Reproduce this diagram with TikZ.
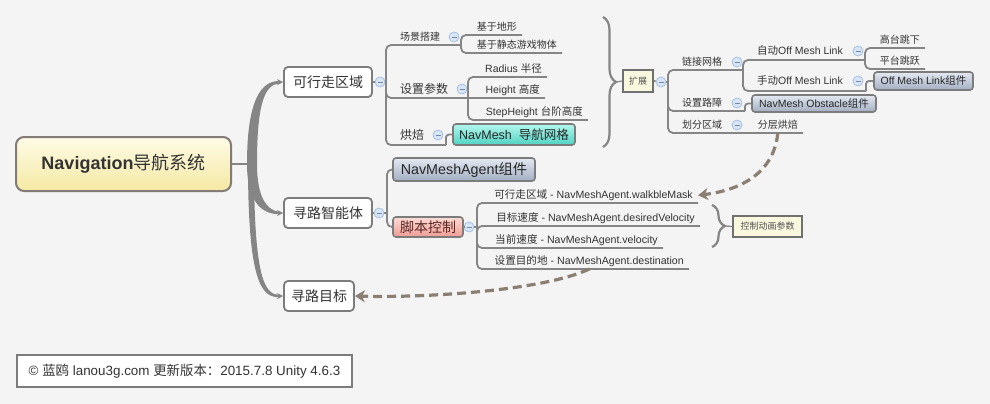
\documentclass[tikz,border=0pt]{standalone}
\usepackage{fontspec}
\setmainfont{Liberation Sans}
\newfontfamily\cjk{Noto Sans CJK SC}
\newcommand{\zh}[1]{{\cjk #1}}
\usetikzlibrary{arrows.meta,decorations.pathreplacing}
\definecolor{bgcol}{HTML}{F4F4F4}
\definecolor{linecol}{HTML}{858585}
\definecolor{boxcol}{HTML}{7C7C7C}
\definecolor{txtcol}{HTML}{333333}
\definecolor{foldfill}{HTML}{D8E5F6}
\definecolor{folddraw}{HTML}{A6BFE4}
\definecolor{flowcol}{HTML}{8A7F72}
\definecolor{creamcol}{HTML}{FAF7DF}
\definecolor{rootop}{HTML}{FEFBE6}
\definecolor{rootbot}{HTML}{F5E9A4}
\definecolor{tealtop}{HTML}{B4F7EC}
\definecolor{tealbot}{HTML}{4FD2C2}
\definecolor{slatetop}{HTML}{E4E9F1}
\definecolor{slatebot}{HTML}{A2AEC2}
\definecolor{pinktop}{HTML}{FDDCD5}
\definecolor{pinkbot}{HTML}{F09C93}

\begin{document}
\begin{tikzpicture}[x=1pt, y=-1pt,
        line/.style={draw=linecol, line width=1.8pt, rounded corners=5pt},
        topic/.style={draw=boxcol, line width=1.8pt, rounded corners=4pt, fill=white, text=txtcol,
            inner sep=0pt, minimum height=30pt, font=\fontsize{14}{16}\selectfont},
        tag/.style={text=txtcol, inner sep=0pt},
        leaf/.style={text=txtcol, anchor=south east, inner xsep=5pt, inner ysep=2.5pt,
            text height=0.8em, text depth=0.2em},
        fold/.style={circle, draw=folddraw, fill=foldfill, line width=0.8pt, minimum size=10pt, inner sep=0pt,
            path picture={\draw[folddraw!70!black, line width=0.9pt]
                ([xshift=-2.5pt]path picture bounding box.center) -- ([xshift=2.5pt]path picture bounding box.center);}},
        card/.style={draw=boxcol, line width=1.6pt, rounded corners=3pt, inner sep=0pt, text=black!85},
        slate/.style={card, top color=slatetop, bottom color=slatebot},
        note/.style={draw=boxcol!90!black, line width=1.6pt, fill=creamcol, inner sep=0pt, text=txtcol!85},
        curly/.style={draw=linecol, line width=2.2pt, decorate, decoration={brace, amplitude=13pt}},
        flow/.style={draw=flowcol, line width=3.2pt, dash pattern=on 9pt off 5pt,
            -{Stealth[length=10pt, width=12pt, inset=3pt]}}]
        \useasboundingbox[fill=bgcol] (0,0) rectangle (990,404);
        % root and first level
        \node[draw=boxcol!90!brown, line width=2pt, rounded corners=8pt, top color=rootop, bottom color=rootbot,
            minimum width=215pt, minimum height=54pt, inner sep=0pt, text=txtcol] (nav) at (123.5,164)
            {\fontsize{18}{20}\selectfont\bfseries Navigation\zh{\mdseries 导航系统}};
        \node[topic, minimum width=88pt] (kxz) at (328,82) {\zh{可行走区域}};
        \node[topic, minimum width=88pt] (xlz) at (328,213) {\zh{寻路智能体}};
        \node[topic, minimum width=70pt] (xlm) at (319,296) {\zh{寻路目标}};
        \coordinate (trunk) at (252,164);
        \draw[line] (nav.east) -- (trunk);
        \fill[linecol] (247,164) .. controls (247,98) and (262,81) .. (279,81)
            -- (279,83.5) .. controls (265,85) and (257,102) .. (257,164) -- cycle;
        \fill[linecol] (247,164) .. controls (247,202) and (262,214.2) .. (279,214.2)
            -- (279,211.8) .. controls (266,210) and (257,196) .. (257,164) -- cycle;
        \fill[linecol] (248,164) .. controls (248,284) and (262,297.2) .. (279,297.2)
            -- (279,295) .. controls (265,294) and (254,280) .. (254,164) -- cycle;
        \draw[linecol, line width=1.5pt, -{Stealth[length=6pt, width=6pt]}] (277,82.2) -- (kxz.west);
        \draw[linecol, line width=1.5pt, -{Stealth[length=6pt, width=6pt]}] (277,213) -- (xlz.west);
        \draw[linecol, line width=1.5pt, -{Stealth[length=6pt, width=6pt]}] (277,296.1) -- (xlm.west);
        % walkable area
        \node[fold] (f-kxz) at (380,82) {};
        \coordinate (b-kxz) at (386,82);
        \draw[line] (kxz.east) -- (f-kxz);
        \draw[line] (f-kxz.east) -- (b-kxz);
        \node[tag, font=\fontsize{10}{12}\selectfont] (cjdj) at (420,37) {\zh{场景搭建}};
        \node[fold] (f-cjdj) at (454,37) {};
        \coordinate (j-cjdj) at (461,45);
        \node[leaf, font=\fontsize{10}{12}\selectfont] (dx) at (522,35) {\zh{基于地形}};
        \node[leaf, font=\fontsize{10}{12}\selectfont] (jtyx) at (562,53) {\zh{基于静态游戏物体}};
        \draw[line] (b-kxz) |- (j-cjdj);
        \draw[line] (j-cjdj) |- (dx.south east);
        \draw[line] (j-cjdj) |- (jtyx.south east);
        \node[tag, font=\fontsize{12}{14}\selectfont] (szcs) at (424,89) {\zh{设置参数}};
        \node[fold] (f-szcs) at (462,89) {};
        \coordinate (j-szcs) at (468,98);
        \node[leaf, font=\fontsize{10.5}{12}\selectfont] (radius) at (547,77) {Radius \zh{半径}};
        \node[leaf, font=\fontsize{10.5}{12}\selectfont] (height) at (545,98) {Height \zh{高度}};
        \node[leaf, font=\fontsize{10.5}{12}\selectfont] (step) at (588,120) {StepHeight \zh{台阶高度}};
        \draw[line] (b-kxz) |- (j-szcs);
        \draw[line] (j-szcs) |- (radius.south east);
        \draw[line] (j-szcs) -- (height.south east);
        \draw[line] (j-szcs) |- (step.south east);
        \node[tag, font=\fontsize{12}{14}\selectfont] (hb) at (412,135) {\zh{烘焙}};
        \node[fold] (f-hb) at (438,135) {};
        \node[card, top color=tealtop, bottom color=tealbot, minimum width=122pt, minimum height=21pt,
            font=\fontsize{12.5}{14}\selectfont] (navmesh) at (514,134.5) {NavMesh~~\zh{导航网格}};
        \coordinate (j-hb) at (446,145);
        \draw[line] (b-kxz) |- (j-hb);
        \draw[line, rounded corners=3pt] (j-hb) |- (navmesh.west);
        % extension
        \draw[curly] (603,17) -- (603,147);
        \node[note, minimum width=30pt, minimum height=22pt, font=\fontsize{9}{10}\selectfont] (kz) at (638,81) {\zh{扩展}};
        \draw[linecol, line width=1.2pt] (616,82) -- (kz.west);
        \node[fold] (f-kz) at (661,82) {};
        \coordinate (b-kz) at (668,82);
        \draw[line] (kz.east) -- (f-kz);
        \draw[line] (f-kz.east) -- (b-kz);
        \node[tag, font=\fontsize{10}{12}\selectfont] (ljwg) at (702,62) {\zh{链接网格}};
        \node[fold] (f-ljwg) at (737,62) {};
        \coordinate (j-ljwg) at (743,70);
        \draw[line] (b-kz) |- (j-ljwg);
        \node[tag, font=\fontsize{10.5}{12}\selectfont] (zd) at (800,51) {\zh{自动}Off Mesh Link};
        \node[fold] (f-zd) at (858,51) {};
        \coordinate (j-zd) at (865,60);
        \draw[line] (j-ljwg) |- (j-zd);
        \node[leaf, font=\fontsize{10}{12}\selectfont] (gtjx) at (925,48) {\zh{高台跳下}};
        \node[leaf, font=\fontsize{10}{12}\selectfont] (ptjy) at (925,69) {\zh{平台跳跃}};
        \draw[line] (j-zd) |- (gtjx.south east);
        \draw[line] (j-zd) |- (ptjy.south east);
        \node[tag, font=\fontsize{10.5}{12}\selectfont] (sd) at (800,81) {\zh{手动}Off Mesh Link};
        \node[fold] (f-sd) at (858,81) {};
        \node[slate, minimum width=99pt, minimum height=18pt, font=\fontsize{10.5}{12}\selectfont] (omlink) at (923.5,81)
            {Off Mesh Link\zh{组件}};
        \coordinate (j-sd) at (866,91);
        \draw[line] (j-ljwg) |- (j-sd);
        \draw[line, rounded corners=3pt] (j-sd) |- (omlink.west);
        \node[tag, font=\fontsize{10}{12}\selectfont] (szlz) at (702,103) {\zh{设置路障}};
        \node[fold] (f-szlz) at (737,103) {};
        \node[slate, minimum width=124pt, minimum height=17pt, font=\fontsize{10.5}{12}\selectfont] (obstacle) at (814,103.5)
            {NavMesh Obstacle\zh{组件}};
        \coordinate (j-szlz) at (745,111);
        \draw[line] (b-kz) |- (j-szlz);
        \draw[line, rounded corners=3pt] (j-szlz) |- (obstacle.west);
        \node[tag, font=\fontsize{10}{12}\selectfont] (hfqy) at (702,125) {\zh{划分区域}};
        \node[fold] (f-hfqy) at (737,125) {};
        \node[leaf, font=\fontsize{10}{12}\selectfont] (fchb) at (803,133) {\zh{分层烘焙}};
        \draw[line] (b-kz) |- (fchb.south east);
        % path agent
        \node[fold] (f-xlz) at (379,213) {};
        \coordinate (b-xlz) at (387,213);
        \draw[line] (xlz.east) -- (f-xlz);
        \draw[line] (f-xlz.east) -- (b-xlz);
        \node[slate, minimum width=142pt, minimum height=23pt, font=\fontsize{14.3}{16}\selectfont] (nma) at (464,169.5)
            {NavMeshAgent\zh{组件}};
        \node[card, top color=pinktop, bottom color=pinkbot, minimum width=70pt, minimum height=20pt,
            font=\fontsize{14}{16}\selectfont, text={rgb,255:red,90;green,40;blue,36}] (jbkz) at (428,227) {\zh{脚本控制}};
        \draw[line] (b-xlz) |- (nma.west);
        \draw[line] (b-xlz) |- (jbkz.west);
        \node[fold] (f-jbkz) at (469,227) {};
        \coordinate (b-jbkz) at (477,227);
        \draw[line] (jbkz.east) -- (f-jbkz);
        \draw[line] (f-jbkz.east) -- (b-jbkz);
        \node[leaf, font=\fontsize{10.6}{12}\selectfont] (w1) at (698,203) {\zh{可行走区域} - NavMeshAgent.walkbleMask};
        \node[leaf, font=\fontsize{10.6}{12}\selectfont] (w2) at (700,226) {\zh{目标速度} - NavMeshAgent.desiredVelocity};
        \node[leaf, font=\fontsize{10.6}{12}\selectfont] (w3) at (663,248) {\zh{当前速度} - NavMeshAgent.velocity};
        \node[leaf, font=\fontsize{10.6}{12}\selectfont] (w4) at (689,269) {\zh{设置目的地} - NavMeshAgent.destination};
        \draw[line] (b-jbkz) |- (w1.south east);
        \draw[line] (b-jbkz) |- (w2.south east);
        \draw[line] (b-jbkz) |- (w3.south east);
        \draw[line] (b-jbkz) |- (w4.south east);
        \draw[curly] (712,205) -- (712,247);
        \node[note, minimum width=69pt, minimum height=21pt, font=\fontsize{9}{10}\selectfont] (kzdh) at (767.5,226.5) {\zh{控制动画参数}};
        \draw[linecol, line width=1.2pt] (725,226) -- (kzdh.west);
        % dashed links
        \draw[flow] (fchb.south) .. controls (774,172) and (742,190) .. (w1.east);
        \draw[flow] (w4.south) .. controls (545,290) and (430,298) .. (xlm.east);
        % footer
        \node[draw=boxcol, line width=1.8pt, fill=white, minimum width=335pt, minimum height=32pt, inner sep=0pt, text=txtcol,
            font=\fontsize{13.4}{15}\selectfont] (cp) at (184.5,371) {© \zh{蓝鸥} lanou3g.com \zh{更新版本：}2015.7.8 Unity 4.6.3};
\end{tikzpicture}
\end{document}
